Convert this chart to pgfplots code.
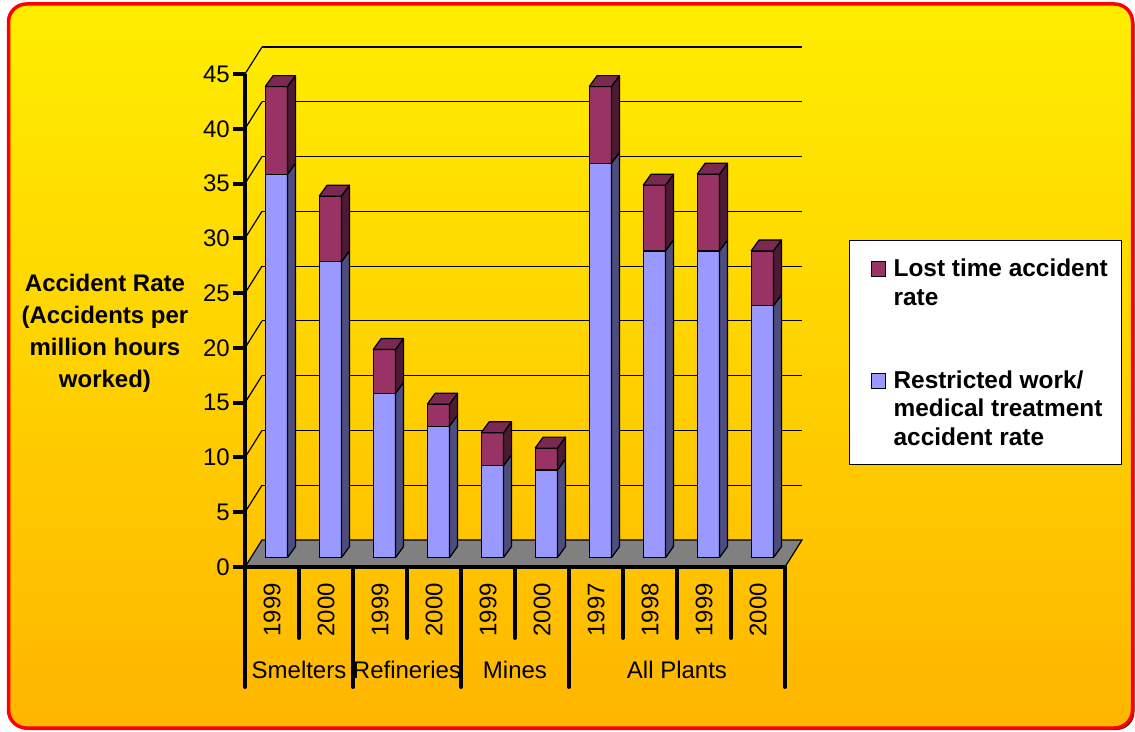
\documentclass[border=0pt]{standalone}
\usepackage{fontspec}
\setmainfont{Liberation Sans}
\usepackage{pgfplots}
\usepackage{pgfplotstable}
\pgfplotsset{compat=1.18}
\definecolor{lfront}{HTML}{993366}
\definecolor{ltop}{HTML}{7A2952}
\definecolor{lside}{HTML}{4D1A33}
\definecolor{rfront}{HTML}{9999FF}
\definecolor{rside}{HTML}{4D4D80}
\definecolor{floorgray}{HTML}{808080}
\definecolor{bgtop}{HTML}{FFFF00}
\definecolor{bgbot}{HTML}{FF9900}
\pgfdeclareverticalshading{bgshade}{100bp}{color(0bp)=(bgbot); color(90bp)=(bgtop); color(100bp)=(bgtop)}
\pgfplotsset{
  sqlegendA/.style={legend image code/.code={\path (0pt,-28.4pt) (0pt,0pt); \draw[##1, line width=1pt] (7pt,0pt) rectangle (21pt,15pt);}},
  sqlegendB/.style={legend image code/.code={\path (0pt,-56.8pt) (0pt,0pt); \draw[##1, line width=1pt] (7pt,0pt) rectangle (21pt,15pt);}}}
\pgfplotstableread{
x r l
0 35 8
1 27 6
2 15 4
3 12 2
4 8.4 3
5 8 2
6 36 7
7 28 6
8 28 7
9 23 5
}\datatable
\begin{document}
\begin{tikzpicture}
\useasboundingbox (0,0) rectangle (1135pt,731pt);
\fill[black!85, rounded corners=18pt] (10.5pt,1pt) rectangle (1134.5pt,725pt);
\shade[shading=bgshade, rounded corners=18pt] (8.5pt,3pt) rectangle (1132.5pt,727pt);
\draw[red, line width=3.5pt, rounded corners=18pt] (8.5pt,3pt) rectangle (1132.5pt,727pt);
% back wall grid
\begin{axis}[at={(262pt,191pt)}, anchor=south west, scale only axis,
  width=540pt, height=493pt, xmin=-0.5, xmax=9.5, ymin=0, ymax=45,
  axis line style={draw=none}, ytick={5,10,...,45}, xtick=\empty,
  yticklabel style={text opacity=0, opacity=0}, major tick length=0pt, ytick style={draw=none},
  ymajorgrids, grid style={black, line width=1.2pt}]
\end{axis}
% front axis
\begin{axis}[at={(245pt,164pt)}, anchor=south west, scale only axis,
  width=540pt, height=493pt, xmin=-0.5, xmax=9.5, ymin=0, ymax=45,
  clip=false, axis on top,
  axis x line*=bottom, axis y line*=left,
  axis line style={line width=4pt, -},
  ytick={0,5,...,45}, xtick={0,...,9},
  xticklabels={1999,2000,1999,2000,1999,2000,1997,1998,1999,2000},
  tick align=outside, major tick length=12pt,
  ytick style={line width=4pt, black},
  xtick style={draw=none},
  yticklabel style={font=\fontsize{24}{24}\selectfont, inner sep=0pt, xshift=-3pt},
  xticklabel style={rotate=90, anchor=east, font=\fontsize{24}{24}\selectfont, inner sep=0pt},
  xticklabel shift=4pt,
  /pgf/number format/assume math mode=true,
  every axis y label/.style={at={(axis description cs:-0.2593,0.5584)}, anchor=base, inner sep=0pt},
  ylabel={\parbox[t]{200pt}{\centering\fontsize{24}{31.8}\bfseries\selectfont Accident Rate\\(Accidents per\\million hours\\worked)}},
]
\fill[floorgray, draw=black, line width=1.2pt] (axis cs:-0.5,0) -- (axis cs:9.5,0) -- ([shift={(17pt,27pt)}]axis cs:9.5,0) -- ([shift={(17pt,27pt)}]axis cs:-0.5,0) -- cycle;
\pgfplotsinvokeforeach{5,10,...,45}{\draw[line width=1.2pt] (axis cs:-0.5,#1) -- ++(17pt,27pt);}
\pgfplotsinvokeforeach{-0.5,1.5,3.5,5.5,9.5}{\draw[line width=4pt, line cap=round] (axis cs:#1,0) -- ++(0pt,-120pt);}
\pgfplotsinvokeforeach{0.5,2.5,4.5,6.5,7.5,8.5}{\draw[line width=4pt, line cap=round] (axis cs:#1,0) -- ++(0pt,-71pt);}
\node[anchor=base, font=\fontsize{24}{24}\selectfont] at ([yshift=-111pt]axis cs:0.5,0) {Smelters};
\node[anchor=base, font=\fontsize{24}{24}\selectfont] at ([yshift=-111pt]axis cs:2.5,0) {Refineries};
\node[anchor=base, font=\fontsize{24}{24}\selectfont] at ([yshift=-111pt]axis cs:4.5,0) {Mines};
\node[anchor=base, font=\fontsize{24}{24}\selectfont] at ([yshift=-111pt]axis cs:7.5,0) {All Plants};
\end{axis}
% bars (front faces)
\begin{axis}[at={(249.3pt,173.3pt)}, anchor=south west, scale only axis,
  width=540pt, height=493pt, xmin=-0.5, xmax=9.5, ymin=0, ymax=45,
  hide axis, clip=false, ybar stacked, bar width=22.3pt,
  reverse legend,
  legend style={at={(1.1106,0.6444)}, anchor=north west, draw=black, line width=1pt,
    fill=white, inner xsep=14pt, inner ysep=18.5pt, row sep=65pt, column sep=8pt,
    cells={anchor=base west}, nodes={inner sep=0pt},
    font=\fontsize{24.4}{28.4}\bfseries\selectfont}]
\addplot[fill=rfront, draw=black, line width=1.2pt, sqlegendB]
  table[x=x, y=r]{\datatable};
\addlegendentry{\vtop{\hbox{Restricted work/}\hbox{medical treatment}\hbox{accident rate}}}
\addplot[fill=lfront, draw=black, line width=1.2pt, sqlegendA]
  table[x=x, y=l]{\datatable};
\addlegendentry{\vtop{\hbox{Lost time accident}\hbox{rate}}}
\end{axis}
% 3D side and top faces
\begin{axis}[at={(249.3pt,173.3pt)}, anchor=south west, scale only axis,
  width=540pt, height=493pt, xmin=-0.5, xmax=9.5, ymin=0, ymax=45,
  hide axis, clip=false, no markers]
\pgfplotsinvokeforeach{0,...,9}{
  \pgfplotstablegetelem{#1}{r}\of\datatable \let\rv\pgfplotsretval
  \pgfplotstablegetelem{#1}{l}\of\datatable \let\lv\pgfplotsretval
  \pgfmathsetmacro\tv{\rv+\lv}
  \pgfmathsetmacro\xr{#1+0.2065}
  \pgfmathsetmacro\xl{#1-0.2065}
  \pgfmathsetmacro\xrr{\xr+0.1481}
  \pgfmathsetmacro\xll{\xl+0.1481}
  \pgfmathsetmacro\rtop{\rv+1.004}
  \pgfmathsetmacro\ttop{\tv+1.004}
  \edef\cmd{%
    \noexpand\addplot[fill=rside, draw=black, line width=1.2pt, line join=round] coordinates {(\xr,0) (\xrr,1.004) (\xrr,\rtop) (\xr,\rv) (\xr,0)};
    \noexpand\addplot[fill=lside, draw=black, line width=1.2pt, line join=round] coordinates {(\xr,\rv) (\xrr,\rtop) (\xrr,\ttop) (\xr,\tv) (\xr,\rv)};
    \noexpand\addplot[fill=ltop, draw=black, line width=1.2pt, line join=round] coordinates {(\xl,\tv) (\xll,\ttop) (\xrr,\ttop) (\xr,\tv) (\xl,\tv)};
  }\cmd
}
\end{axis}
\end{tikzpicture}
\end{document}
